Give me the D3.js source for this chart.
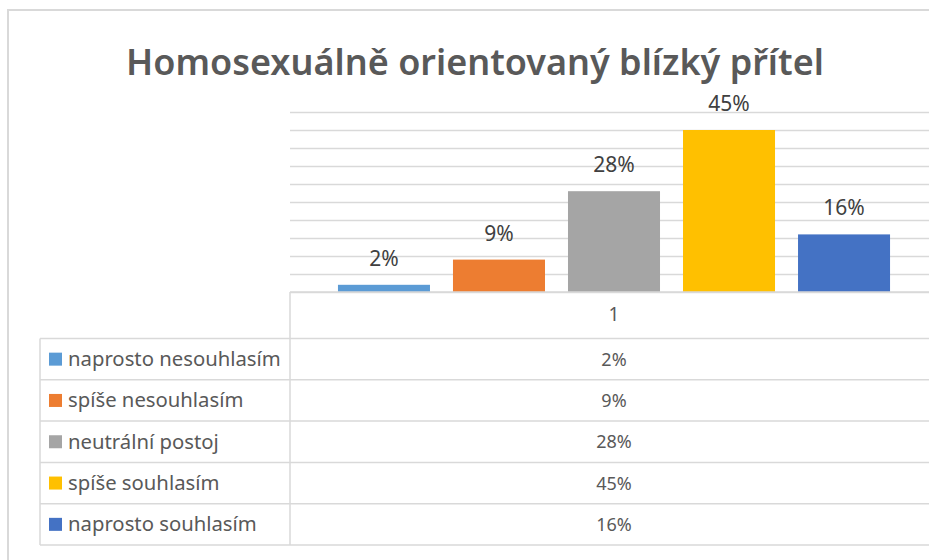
<!DOCTYPE html>
<html>
<head>
<meta charset="utf-8">
<script src="https://cdn.jsdelivr.net/npm/d3@7"></script>
<style>
  html, body { margin: 0; padding: 0; background: #fff; }
  svg { display: block; font-family: "Noto Sans", sans-serif; }
</style>
</head>
<body>
<div id="chart"></div>
<script>
// chart data
const title = "Homosexuálně orientovaný blízký přítel";
const categories = ["1"];
const series = ["naprosto nesouhlasím", "spíše nesouhlasím", "neutrální postoj", "spíše souhlasím", "naprosto souhlasím"];
const values = [0.02, 0.09, 0.28, 0.45, 0.16];
const colors = ["#5B9BD5", "#ED7D31", "#A5A5A5", "#FFC000", "#4472C4"];
const yTicks = [0, 0.05, 0.1, 0.15, 0.2, 0.25, 0.3, 0.35, 0.4, 0.45, 0.5];

const width = 929;
const height = 560;
const plot = { left: 290, right: 938, top: 112, bottom: 292 };
const table = { left: 40, split: 290, top: 338.5, rowHeight: 41.3 };
const pct = d3.format(".0%");

const svg = d3.select("#chart")
  .append("svg")
  .attr("width", width)
  .attr("height", height)
  .attr("viewBox", [0, 0, width, height]);

// chart area border
svg.append("rect")
  .attr("x", 8)
  .attr("y", 10)
  .attr("width", 960)
  .attr("height", 600)
  .attr("fill", "#fff")
  .attr("stroke", "#d9d9d9")
  .attr("stroke-width", 2);

svg.append("text")
  .attr("x", 475)
  .attr("y", 75)
  .attr("text-anchor", "middle")
  .attr("fill", "#595959")
  .attr("font-size", 36)
  .attr("font-weight", 600)
  .text(title);

const y = d3.scaleLinear()
  .domain([0, 0.5])
  .range([plot.bottom, plot.top]);

const x0 = d3.scaleBand()
  .domain(categories)
  .range([plot.left, plot.right]);

const x1 = d3.scaleBand()
  .domain(series)
  .range([x0(categories[0]), x0(categories[0]) + x0.bandwidth()])
  .paddingInner(0.2)
  .paddingOuter(0.417);

// gridlines
const yAxis = d3.axisLeft(y)
  .tickValues(yTicks)
  .tickSize(-(plot.right - plot.left))
  .tickFormat("");

svg.append("g")
  .attr("class", "y-grid")
  .attr("transform", `translate(${plot.left},0)`)
  .call(yAxis)
  .call((g) => g.select(".domain").remove())
  .call((g) => g.selectAll("line")
    .attr("stroke", "#d9d9d9")
    .attr("stroke-width", 1.3));

// bars
svg.append("g")
  .selectAll("rect")
  .data(values)
  .join("rect")
  .attr("x", (d, i) => x1(series[i]))
  .attr("y", (d) => y(d))
  .attr("width", x1.bandwidth())
  .attr("height", (d) => y(0) - y(d))
  .attr("fill", (d, i) => colors[i]);

// data labels
svg.append("g")
  .selectAll("text")
  .data(values)
  .join("text")
  .attr("x", (d, i) => x1(series[i]) + x1.bandwidth() / 2)
  .attr("y", (d) => y(d) - 19)
  .attr("text-anchor", "middle")
  .attr("fill", "#404040")
  .attr("font-size", 21)
  .text((d) => pct(d));

// data table
const tableGroup = svg.append("g").attr("class", "data-table");
const lineColor = "#d9d9d9";
const rowsBottom = table.top + table.rowHeight * series.length;

// header cell for category
tableGroup.append("line")
  .attr("x1", table.split).attr("x2", table.split)
  .attr("y1", plot.bottom).attr("y2", rowsBottom)
  .attr("stroke", lineColor).attr("stroke-width", 1.5);

tableGroup.append("line")
  .attr("x1", plot.left).attr("x2", plot.right)
  .attr("y1", plot.bottom).attr("y2", plot.bottom)
  .attr("stroke", lineColor).attr("stroke-width", 1.5);

tableGroup.append("line")
  .attr("x1", table.left).attr("x2", table.left)
  .attr("y1", table.top).attr("y2", rowsBottom)
  .attr("stroke", lineColor).attr("stroke-width", 1.5);

tableGroup.append("text")
  .attr("x", x0(categories[0]) + x0.bandwidth() / 2)
  .attr("y", (plot.bottom + table.top) / 2 + 6)
  .attr("text-anchor", "middle")
  .attr("fill", "#595959")
  .attr("font-size", 19)
  .text(categories[0]);

const rowLines = d3.range(series.length + 1);
tableGroup.selectAll(".row-line")
  .data(rowLines)
  .join("line")
  .attr("class", "row-line")
  .attr("x1", table.left)
  .attr("x2", plot.right)
  .attr("y1", (i) => table.top + i * table.rowHeight)
  .attr("y2", (i) => table.top + i * table.rowHeight)
  .attr("stroke", lineColor)
  .attr("stroke-width", 1.5);

const rows = tableGroup.selectAll(".row")
  .data(series)
  .join("g")
  .attr("class", "row")
  .attr("transform", (d, i) => `translate(0,${table.top + (i + 0.5) * table.rowHeight})`);

rows.append("rect")
  .attr("x", 49)
  .attr("y", -6.5)
  .attr("width", 13)
  .attr("height", 13)
  .attr("fill", (d, i) => colors[i]);

rows.append("text")
  .attr("x", 68)
  .attr("y", 7)
  .attr("fill", "#595959")
  .attr("font-size", 20.3)
  .text((d) => d);

rows.append("text")
  .attr("x", x0(categories[0]) + x0.bandwidth() / 2)
  .attr("y", 6.5)
  .attr("text-anchor", "middle")
  .attr("fill", "#595959")
  .attr("font-size", 18)
  .text((d, i) => pct(values[i]));
</script>
</body>
</html>
